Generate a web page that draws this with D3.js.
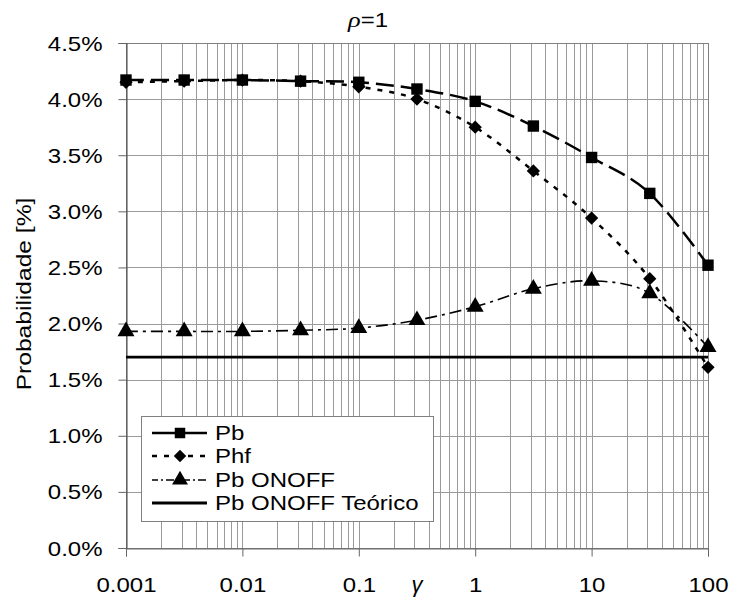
<!DOCTYPE html>
<html><head><meta charset="utf-8">
<script src="https://cdn.jsdelivr.net/npm/d3@7"></script>
<style>body{margin:0;background:#fff}svg{display:block}text{font-family:"Liberation Sans",Arial,sans-serif;fill:#000}</style>
</head><body>
<svg id="c" width="732" height="602"></svg>
<script>
const gammas = [0.001, 0.00316, 0.01, 0.0316, 0.1, 0.316, 1, 3.16, 10, 31.6, 100];
const pb      = [4.17, 4.17, 4.17, 4.16, 4.15, 4.09, 3.98, 3.76, 3.48, 3.16, 2.52];
const phf     = [4.15, 4.16, 4.17, 4.16, 4.11, 4.00, 3.75, 3.36, 2.94, 2.40, 1.61];
const pbOnOff = [1.93, 1.93, 1.93, 1.94, 1.96, 2.03, 2.15, 2.31, 2.38, 2.27, 1.79];
const pbOnOffTeorico = 1.70;
const xTicks = [0.001, 0.01, 0.1, 1, 10, 100];
const yTicks = [0, 0.5, 1, 1.5, 2, 2.5, 3, 3.5, 4, 4.5];
const seriesNames = ["Pb", "Phf", "Pb ONOFF", "Pb ONOFF Teórico"];

const svg = d3.select("#c");
const L = 126, R = 708, T = 43, B = 548;
const x = d3.scaleLog().domain([0.001, 100]).range([L, R]);
const y = d3.scaleLinear().domain([0, 4.5]).range([B, T]);
const SX = 1.2;

// minor + major vertical grid
const minor = [];
for (let e = -3; e < 2; e++) for (let k = 1; k <= 9; k++) minor.push(k * Math.pow(10, e));
minor.push(100);
svg.append("g").selectAll("line").data(minor).join("line")
  .attr("x1", d => Math.round(x(d)) + 0.5).attr("x2", d => Math.round(x(d)) + 0.5)
  .attr("y1", T).attr("y2", B).attr("stroke", "#9a9a9a").attr("stroke-width", 1);
svg.append("g").selectAll("line").data(yTicks).join("line")
  .attr("x1", L).attr("x2", R)
  .attr("y1", d => Math.round(y(d)) + 0.5).attr("y2", d => Math.round(y(d)) + 0.5)
  .attr("stroke", "#9a9a9a").attr("stroke-width", 1);
// frame
svg.append("rect").attr("x", L + 0.5).attr("y", T + 0.5).attr("width", R - L).attr("height", B - T)
  .attr("fill", "none").attr("stroke", "#808080");

// axes
const yAxis = svg.append("g").attr("transform", `translate(${L + 0.5},0)`)
  .call(d3.axisLeft(y).tickValues(yTicks).tickSize(8).tickPadding(12).tickFormat(d => d.toFixed(1) + "%"));
yAxis.select(".domain").attr("stroke", "#444");
yAxis.selectAll(".tick line").attr("stroke", "#666");
yAxis.selectAll("text").attr("font-size", 20).attr("font-family", "Liberation Sans")
  .attr("transform", `scale(${SX},1)`).attr("dy", "0.35em");

const xAxis = svg.append("g").attr("transform", `translate(0,${B + 0.5})`)
  .call(d3.axisBottom(x).tickValues(xTicks).tickSize(8).tickFormat(d => String(d)));
xAxis.select(".domain").attr("stroke", "#666");
xAxis.selectAll(".tick line").attr("stroke", "#666");
xAxis.selectAll("text").attr("font-size", 20).attr("font-family", "Liberation Sans")
  .attr("y", 44).attr("dy", 0).attr("transform", `scale(${SX},1)`);

// lines
const curve = d3.curveCardinal.tension(0);
const mk = vals => d3.line().curve(curve).x((d, i) => x(gammas[i])).y(d => y(d))(vals);
const styles = [
  {vals: pb, dash: "18,7", w: 2.5, sym: d3.symbolSquare, size: 130, rot: 0},
  {vals: phf, dash: "5,7", w: 2.5, sym: d3.symbolSquare, size: 88, rot: 45},
  {vals: pbOnOff, dash: "12,5,3,5", w: 1.6, sym: d3.symbolTriangle, size: 125, rot: 0}
];
svg.append("line").attr("x1", L).attr("x2", R).attr("y1", y(pbOnOffTeorico)).attr("y2", y(pbOnOffTeorico))
  .attr("stroke", "#000").attr("stroke-width", 2.8);
styles.forEach(s => {
  svg.append("path").attr("d", mk(s.vals)).attr("fill", "none").attr("stroke", "#000")
    .attr("stroke-width", s.w).attr("stroke-dasharray", s.dash);
});
styles.slice().reverse().forEach(s => {
  svg.append("g").selectAll("path").data(s.vals).join("path")
    .attr("transform", (d, i) => `translate(${x(gammas[i])},${y(d)}) rotate(${s.rot})`)
    .attr("d", d3.symbol().type(s.sym).size(s.size)).attr("fill", "#000");
});

// legend
const lg = svg.append("g");
lg.append("rect").attr("x", 141.5).attr("y", 416.5).attr("width", 292).attr("height", 105)
  .attr("fill", "#fff").attr("stroke", "#808080");
const rowsY = [433, 456, 480, 503];
const legStyles = [
  {dash: null, w: 2.5, sym: d3.symbolSquare, size: 110, rot: 0},
  {dash: "5,7", w: 2.5, sym: d3.symbolSquare, size: 78, rot: 45},
  {dash: "8,3,2,3", w: 1.4, sym: d3.symbolTriangle, size: 110, rot: 0},
  {dash: null, w: 2.8, sym: null}
];
seriesNames.forEach((n, i) => {
  const s = legStyles[i], yy = rowsY[i];
  const ln = lg.append("line").attr("x1", 152).attr("x2", 207).attr("y1", yy).attr("y2", yy)
    .attr("stroke", "#000").attr("stroke-width", s.w);
  if (s.dash) ln.attr("stroke-dasharray", s.dash).attr("stroke-dashoffset", i === 1 ? 0 : 2);
  if (s.sym) lg.append("path").attr("transform", `translate(180,${yy}) rotate(${s.rot})`)
    .attr("d", d3.symbol().type(s.sym).size(s.size)).attr("fill", "#000");
  lg.append("text").attr("transform", `translate(215,${yy + 7}) scale(${SX},1)`)
    .attr("font-size", 20).text(n);
});

// titles
const t = svg.append("text").attr("transform", `translate(368,27) scale(${SX},1)`)
  .attr("text-anchor", "middle").attr("font-size", 20);
t.append("tspan").attr("font-family", "Liberation Serif").attr("font-style", "italic").attr("font-size", 22).text("ρ");
t.append("tspan").text("=1");
svg.append("text").attr("transform", "translate(31,294) rotate(-90) scale(1.23,1)")
  .attr("text-anchor", "middle").attr("font-size", 20).text("Probabilidade [%]");
svg.append("text").attr("transform", "translate(417,592)").attr("text-anchor", "middle")
  .attr("font-family", "Liberation Serif").attr("font-style", "italic").attr("font-size", 22).text("γ");
</script>
</body></html>
